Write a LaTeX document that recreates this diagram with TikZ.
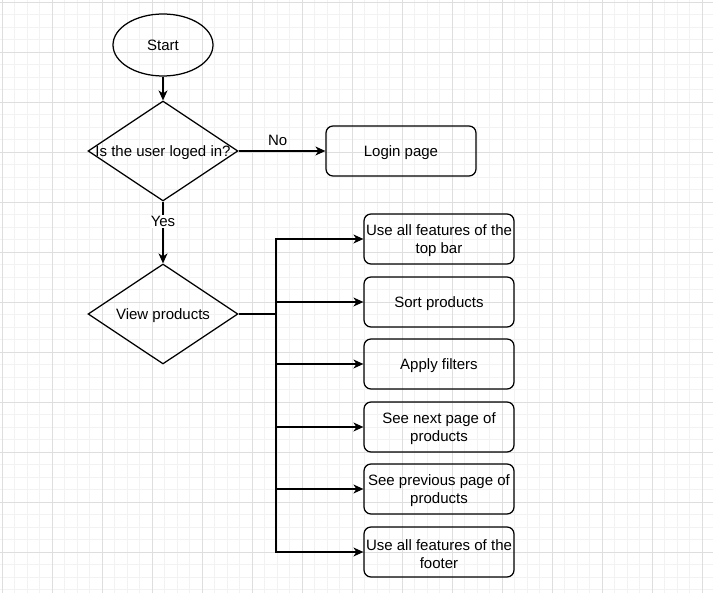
\documentclass[tikz,border=0pt]{standalone}
\usepackage{fontspec}
\setmainfont{Liberation Sans}
\usetikzlibrary{shapes.geometric,arrows.meta}
\begin{document}
\begin{tikzpicture}[x=1pt,y=-1pt,
  every node/.style={font=\fontsize{15}{18}\selectfont, text=black},
  minorgrid/.style={draw=black!5, line width=0.8pt},
  majorgrid/.style={draw=black!13, line width=0.8pt},
  conn/.style={draw=black, line width=1.25pt},
  arr/.style={conn, -{Stealth[length=10pt,width=9pt,inset=3pt]}},
  startnode/.style={ellipse, draw, line width=1.25pt, minimum width=100pt, minimum height=62pt, inner sep=0pt},
  decision/.style={diamond, draw, line width=1.25pt, minimum width=150pt, minimum height=100pt, inner sep=0pt},
  procbox/.style={rectangle, draw, line width=1.25pt, rounded corners=7pt, minimum width=150pt, minimum height=50pt, inner sep=0pt},
  txt/.style={label={[align=center, yshift=-2pt]center:#1}},
  edgelabel/.style={inner sep=1pt}
]
\useasboundingbox (0,0) rectangle (713,593);
\fill[white] (0,0) rectangle (713,593);
% grid
\foreach \x in {2,14.5,...,712} \draw[minorgrid] (\x,0) -- (\x,593);
\foreach \y in {2,14.5,...,593} \draw[minorgrid] (0,\y) -- (713,\y);
\foreach \x in {2,52,...,702} \draw[majorgrid] (\x,0) -- (\x,593);
\foreach \y in {2,52,...,552} \draw[majorgrid] (0,\y) -- (713,\y);

% nodes
\node[startnode] (start) at (163,45) {Start};
\node[decision, txt={Is the user loged in?}] (login) at (163,151) {};
\node[procbox, txt={Login page}] (lpage) at (401,151) {};
\node[decision, txt={View products}] (view) at (163,314) {};

\node[procbox, txt={Use all features of the\\top bar}] (b1) at (439,239) {};
\node[procbox, txt={Sort products}] (b2) at (439,302) {};
\node[procbox, txt={Apply filters}] (b3) at (439,364) {};
\node[procbox, txt={See next page of\\products}] (b4) at (439,427) {};
\node[procbox, txt={See previous page of\\products}] (b5) at (439,489) {};
\node[procbox, txt={Use all features of the\\footer}] (b6) at (439,552) {};

\coordinate (trunk) at (276,314);

% connectors
\draw[arr] (start.south) -- (login.north);
\draw[arr] (login.east) -- node[edgelabel, pos=0.45, above=4pt] {No} (lpage.west);
\draw[arr] (login.south) -- node[edgelabel, pos=0.32, fill=white] {Yes} (view.north);
\draw[conn] (view.east) -- (trunk);
\draw[arr] (trunk) |- (b1.west);
\draw[arr] (trunk) |- (b6.west);
\draw[arr] (trunk |- b2.west) -- (b2.west);
\draw[arr] (trunk |- b3.west) -- (b3.west);
\draw[arr] (trunk |- b4.west) -- (b4.west);
\draw[arr] (trunk |- b5.west) -- (b5.west);
\end{tikzpicture}
\end{document}
